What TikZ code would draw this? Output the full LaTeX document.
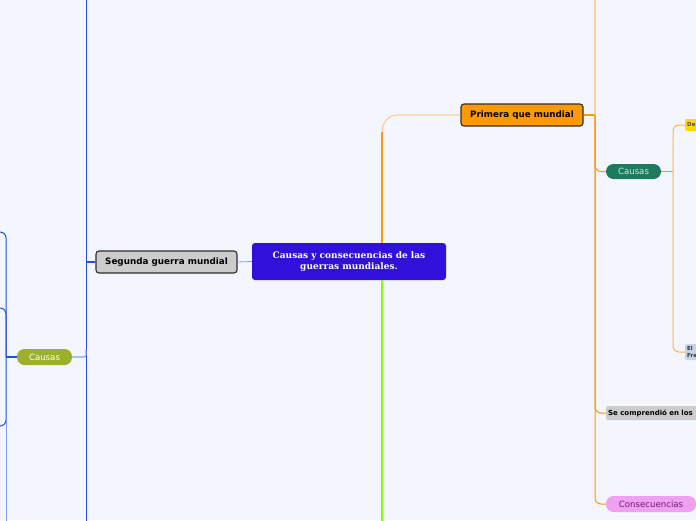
\documentclass[tikz,border=0pt]{standalone}
\usepackage{fontspec}
\setmainfont{DejaVu Sans}
\newfontfamily\serifb{DejaVu Serif}
\definecolor{bgc}{RGB}{243,246,254}
\definecolor{centralc}{RGB}{50,16,220}
\definecolor{orangec}{RGB}{255,153,0}
\definecolor{orangel}{RGB}{255,205,150}
\definecolor{orangem}{RGB}{255,180,80}
\definecolor{greenl}{RGB}{128,255,0}
\definecolor{bluec}{RGB}{30,80,232}
\definecolor{bluel}{RGB}{130,160,240}
\definecolor{grayc}{RGB}{204,204,204}
\definecolor{tealc}{RGB}{28,123,95}
\definecolor{tealt}{RGB}{200,240,225}
\definecolor{olivec}{RGB}{156,176,46}
\definecolor{pinkc}{RGB}{240,160,240}
\definecolor{pinkt}{RGB}{110,30,110}
\definecolor{yellowc}{RGB}{255,216,0}
\definecolor{bluegc}{RGB}{197,211,232}
\definecolor{borderc}{RGB}{45,45,45}
\tikzset{
  central/.style={fill=centralc, rounded corners=3pt, text=white, align=center,
    minimum width=194pt, minimum height=37pt, inner sep=2pt,
    font=\serifb\bfseries\fontsize{9}{10.5}\selectfont},
  mainbox/.style={draw=borderc, line width=1.1pt, rounded corners=3pt, text=black,
    minimum height=22pt, inner sep=2pt, font=\bfseries\fontsize{8.8}{10}\selectfont},
  pill/.style={rounded corners=7.5pt, minimum height=16pt, inner sep=2pt,
    font=\fontsize{8.6}{10}\selectfont},
  tagbox/.style={rounded corners=2pt, inner sep=2pt, anchor=west, align=left},
  conn/.style={line width=1pt, rounded corners=6pt}
}
\begin{document}
\begin{tikzpicture}[x=1pt,y=-1pt]
\fill[bgc] (0,0) rectangle (696,520);
\useasboundingbox (0,0) rectangle (696,520);
\clip (0,0) rectangle (696,520);

% nodes
\node[central] (c) at (349,261.5) {Causas y consecuencias de las\\guerras mundiales.};
\node[mainbox, fill=orangec, minimum width=122pt] (p1) at (522,115) {Primera que mundial};
\node[mainbox, fill=grayc, minimum width=141pt] (s2) at (166.5,262) {Segunda guerra mundial};
\node[pill, fill=tealc, text=tealt, minimum width=55pt, minimum height=15pt] (cg) at (633.5,171.5) {Causas};
\node[pill, fill=olivec, text=white, minimum width=55pt] (co) at (44.5,357) {Causas};
\node[pill, fill=pinkc, text=pinkt, minimum width=90pt] (cs) at (651,504) {Consecuencias};
\node[tagbox, fill=grayc, minimum height=14pt, text width=95pt,
  font=\bfseries\fontsize{7}{8}\selectfont] (se) at (606,413) {Se comprendió en los};
\node[tagbox, fill=yellowc, text=black!70, minimum height=12pt, text width=20pt,
  font=\bfseries\fontsize{5.5}{6.5}\selectfont] (de) at (685,125) {De};
\node[tagbox, fill=bluegc, text=black!80, minimum height=16pt, text width=20pt,
  font=\bfseries\fontsize{5.5}{6.3}\selectfont] (el) at (685,352) {El\\Fra};

% coordinates
\coordinate (rt) at (595,115);
\coordinate (rtop) at (595,-5);
\coordinate (ct) at (673,171.5);
\coordinate (lt) at (86,262);
\coordinate (ltop) at (86,-5);
\coordinate (lbot) at (86,525);
\coordinate (lc) at (6,357);
\coordinate (lk1) at (-8,232);
\coordinate (lk2) at (-8,308);
\coordinate (lk3) at (-8,426);
\coordinate (gbot) at (382,525);
\coordinate (otop) at (382,115);

% center connectors
\draw[greenl, line width=2.6pt] (c.south -| gbot) -- (gbot);
\draw[orangec, line width=2pt] (c.north -| otop) -- (382,132);
\draw[orangel, line width=1.2pt] (382,132) to[out=90,in=180] (397,115) -- (p1.west);
\draw[bluel, line width=0.8pt] (c.west) -- (s2.east);

% right side
\draw[orangec, line width=1.2pt] (p1.east) -- (rt);
\draw[orangel, line width=1.2pt] (rt) -- (rtop);
\draw[orangec, conn] (rt) |- (cg.west);
\draw[orangec, conn] (rt) |- (se.west);
\draw[orangec, conn] (rt) |- (cs.west);
\draw[orangec, line width=1.2pt] (cg.east) -- (ct);
\draw[orangem, conn] (ct) |- (de.west);
\draw[orangem, conn] (ct) |- (el.west);

% left side
\draw[bluec, line width=1.6pt] (s2.west) -- (lt);
\draw[bluec, line width=1pt] (ltop) -- (lbot);
\draw[bluel, line width=1.2pt, rounded corners=2pt] (co.east) -| (86,350);
\draw[bluec, line width=1.6pt] (co.west) -- (lc);
\draw[bluec, conn] (lc) |- (lk1);
\draw[bluec, conn] (lc) |- (lk2);
\draw[bluec, conn] (lc) |- (lk3);
\draw[bluel, line width=1pt] (6,420) -- (6,525);
\end{tikzpicture}
\end{document}
